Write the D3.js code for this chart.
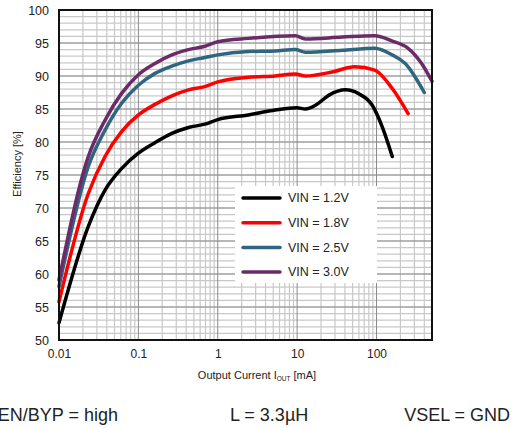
<!DOCTYPE html>
<html>
<head>
<meta charset="utf-8">
<script src="https://cdn.jsdelivr.net/npm/d3@7"></script>
<style>
  body { margin: 0; background: #fff; }
  text { font-family: "Liberation Sans", Arial, sans-serif; fill: #222; }
</style>
</head>
<body>
<div class="js-efficiency"></div>
<script>
// efficiency vs output current
const vin12 = [
  [0.01, 52.6], [0.0234, 67.2], [0.038, 72.7], [0.0618, 76.0], [0.1, 78.3],
  [0.162, 79.9], [0.264, 81.3], [0.428, 82.2], [0.69, 82.7], [1.0, 83.4],
  [2.44, 84.1], [5.3, 84.85], [9.9, 85.2], [12.7, 85.0], [17.2, 85.6],
  [25.2, 87.1], [40.6, 87.9], [59.8, 87.3], [88, 85.6], [118, 82.3], [158, 77.8]
];
const vin18 = [
  [0.01, 55.8], [0.0234, 72.2], [0.038, 77.8], [0.0618, 81.6], [0.1, 84.1],
  [0.162, 85.7], [0.264, 87.0], [0.428, 87.9], [0.69, 88.4], [1.0, 89.1],
  [2.44, 89.8], [5.3, 90.0], [9.5, 90.3], [12.7, 90.0], [28.5, 90.65],
  [53, 91.4], [95, 90.9], [158, 88.1], [250, 84.3]
];
const vin25 = [
  [0.01, 58.1], [0.0234, 76.3], [0.038, 81.8], [0.0618, 85.9], [0.1, 88.6],
  [0.162, 90.4], [0.264, 91.5], [0.428, 92.3], [0.69, 92.8], [1.0, 93.2],
  [2.44, 93.7], [5.3, 93.8], [9.5, 94.0], [12.7, 93.6], [37, 93.9],
  [95, 94.2], [158, 93.2], [230, 91.9], [400, 87.5]
];
const vin30 = [
  [0.01, 59.1], [0.0234, 77.8], [0.038, 83.3], [0.0618, 87.4], [0.1, 90.2],
  [0.162, 91.9], [0.264, 93.2], [0.428, 94.0], [0.69, 94.5], [1.0, 95.2],
  [2.44, 95.7], [9.5, 96.1], [12.7, 95.6], [37, 95.9], [95, 96.1],
  [158, 95.3], [250, 94.2], [370, 91.9], [500, 89.2]
];
const seriesNames = ['VIN = 1.2V', 'VIN = 1.8V', 'VIN = 2.5V', 'VIN = 3.0V'];
const xTicks = [0.01, 0.1, 1, 10, 100];
const yTicks = [50, 55, 60, 65, 70, 75, 80, 85, 90, 95, 100];

const colors = ['#000000', '#ff0000', '#2f6580', '#6a2b68'];
const series = [vin12, vin18, vin25, vin30];

const W = 522, H = 428;
const margin = { left: 59, top: 10, right: 90, bottom: 88 };

const svg = d3.select('.js-efficiency').append('svg')
  .attr('width', W).attr('height', H);

const x = d3.scaleLog().domain([0.01, 500]).range([margin.left, W - margin.right]);
const y = d3.scaleLinear().domain([50, 100]).range([H - margin.bottom, margin.top]);

const grid = svg.append('g');

// minor vertical lines 2..9 of every decade
const minorX = [];
for (let d = 0.01; d < 500; d *= 10) {
  for (let k = 2; k <= 9; k++) {
    const v = d * k;
    if (v < 500) minorX.push(v);
  }
}
grid.selectAll('.vminor').data(minorX).enter().append('line')
  .attr('x1', d => x(d)).attr('x2', d => x(d))
  .attr('y1', y(50)).attr('y2', y(100))
  .attr('stroke', '#c8c8c8').attr('stroke-width', 1.2);

// horizontal lines every 1%
grid.selectAll('.hminor').data(d3.range(51, 100)).enter().append('line')
  .attr('x1', x(0.01)).attr('x2', x(500))
  .attr('y1', d => y(d)).attr('y2', d => y(d))
  .attr('stroke', '#c8c8c8').attr('stroke-width', 1.2);

grid.selectAll('.hmajor').data(yTicks.slice(1, -1)).enter().append('line')
  .attr('x1', x(0.01)).attr('x2', x(500))
  .attr('y1', d => y(d)).attr('y2', d => y(d))
  .attr('stroke', '#8a8a8a').attr('stroke-width', 1);

grid.selectAll('.vmajor').data(xTicks.slice(1)).enter().append('line')
  .attr('x1', d => x(d)).attr('x2', d => x(d))
  .attr('y1', y(50)).attr('y2', y(100))
  .attr('stroke', '#8a8a8a').attr('stroke-width', 1);

// legend background hides the grid
svg.append('rect')
  .attr('x', 235).attr('y', 186).attr('width', 142).attr('height', 97)
  .attr('fill', '#fff');

const line = d3.line()
  .x(d => x(d[0]))
  .y(d => y(d[1]))
  .curve(d3.curveMonotoneX);

svg.append('g').selectAll('path').data(series).enter().append('path')
  .attr('d', line)
  .attr('fill', 'none')
  .attr('stroke', (d, i) => colors[i])
  .attr('stroke-width', 3.5)
  .attr('stroke-linejoin', 'round')
  .attr('stroke-linecap', 'round');

// frame
svg.append('rect')
  .attr('x', x(0.01)).attr('y', y(100))
  .attr('width', x(500) - x(0.01)).attr('height', y(50) - y(100))
  .attr('fill', 'none').attr('stroke', '#111').attr('stroke-width', 2);

// axes
const xAxis = svg.append('g')
  .attr('transform', 'translate(0,' + y(50) + ')')
  .call(d3.axisBottom(x).tickValues(xTicks).tickFormat(d3.format('~g')).tickSize(0).tickPadding(9));
xAxis.select('.domain').remove();
xAxis.selectAll('text').style('font-size', '12px')
  .style('font-family', '"Liberation Sans", Arial, sans-serif').attr('fill', '#222');

const yAxis = svg.append('g')
  .attr('transform', 'translate(' + x(0.01) + ',0)')
  .call(d3.axisLeft(y).tickValues(yTicks).tickSize(0).tickPadding(10));
yAxis.select('.domain').remove();
yAxis.selectAll('text').style('font-size', '12.5px')
  .style('font-family', '"Liberation Sans", Arial, sans-serif').attr('fill', '#222');

// axis titles
svg.append('text')
  .attr('transform', 'translate(21,' + ((y(50) + y(100)) / 2 - 11) + ') rotate(-90)')
  .attr('text-anchor', 'middle')
  .style('font-size', '11px')
  .text('Efficiency [%]');

const xt = svg.append('text')
  .attr('x', 257).attr('y', 379)
  .attr('text-anchor', 'middle')
  .style('font-size', '11px');
xt.append('tspan').text('Output Current I');
xt.append('tspan').attr('dy', 2).style('font-size', '6.5px').text('OUT');
xt.append('tspan').attr('dy', -2).text(' [mA]');

// legend
const legend = svg.append('g').selectAll('g').data(seriesNames).enter().append('g')
  .attr('transform', (d, i) => 'translate(243,' + (198 + i * 24.7) + ')');
legend.append('line')
  .attr('x1', 0).attr('x2', 37)
  .attr('stroke', (d, i) => colors[i])
  .attr('stroke-width', 3.5).attr('stroke-linecap', 'round');
legend.append('text')
  .attr('x', 45).attr('dy', '0.35em')
  .style('font-size', '12.5px')
  .text(d => d);

// test conditions
const cond = svg.append('g').style('font-size', '18px');
cond.append('text').attr('x', 118).attr('y', 421).attr('text-anchor', 'end').text('EN/BYP = high');
cond.append('text').attr('x', 230).attr('y', 421).text('L = 3.3µH');
cond.append('text').attr('x', 510).attr('y', 421).attr('text-anchor', 'end').text('VSEL = GND');
</script>
</body>
</html>
